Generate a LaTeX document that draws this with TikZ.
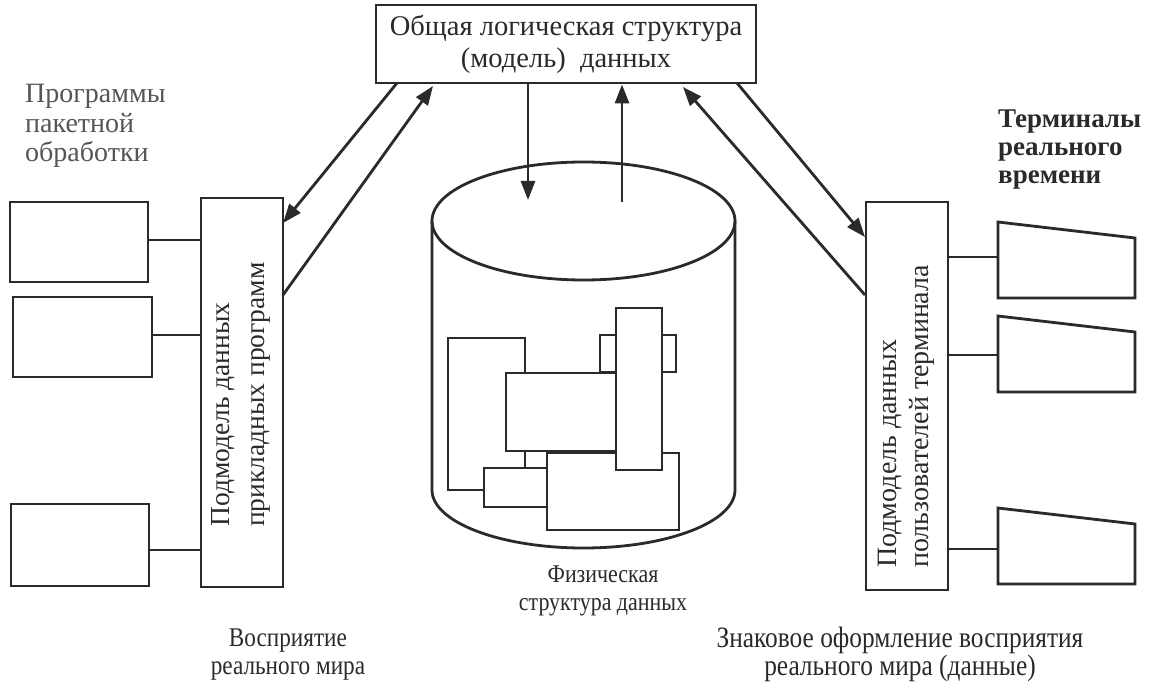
\documentclass[tikz,border=0pt]{standalone}
\usepackage{fontspec}
\setmainfont{Liberation Serif}
\newfontfamily\condf[FakeStretch=0.86]{Liberation Serif}
\usetikzlibrary{arrows.meta}
\definecolor{ink}{HTML}{2a2a2a}
\definecolor{gtext}{HTML}{555555}
\tikzset{
  box/.style={draw=ink, line width=2.8pt, fill=white, inner sep=0pt},
  ln/.style={draw=ink, line width=2.8pt},
  arr/.style={ln, -{Triangle[length=19pt,width=14pt]}},
  lbl/.style={inner sep=0pt, text=ink},
}
\begin{document}
\begin{tikzpicture}[x=1pt,y=-1pt]
\useasboundingbox[fill=white] (0,0) rectangle (1152,695);

% top box
\node[box, minimum width=380pt, minimum height=78pt, align=center,
      font=\fontsize{28.5}{32}\selectfont, text=ink] (top) at (566,44)
      {Общая логическая структура\\(модель)~~данных};

% left big box and programs
\node[box, minimum width=82pt, minimum height=389pt] (lbox) at (242,392.5) {};
\node[lbl, rotate=90, anchor=west, align=left, font=\fontsize{27.5}{35}\selectfont] (ltxt) at (241,527)
      {Подмодель данных\\прикладных программ};
\node[box, minimum width=138pt, minimum height=80pt] (b1) at (79,242) {};
\node[box, minimum width=139pt, minimum height=80pt] (b2) at (82.5,337) {};
\node[box, minimum width=138pt, minimum height=82pt] (b3) at (80,545) {};
\coordinate (c1) at (201,240);
\coordinate (c2) at (201,335);
\coordinate (c3) at (201,550);
\draw[ln] (b1.east |- c1) -- (c1);
\draw[ln] (b2.east |- c2) -- (c2);
\draw[ln] (b3.east |- c3) -- (c3);

\node[lbl, anchor=north west, align=left, text=gtext, font=\fontsize{28}{29.5}\selectfont] (prog) at (25,84)
      {Программы\\пакетной\\обработки};

% right big box and terminals
\node[box, minimum width=82pt, minimum height=388pt] (rbox) at (907,396) {};
\node[lbl, rotate=90, anchor=west, align=left, font=\fontsize{28}{32}\selectfont] (rtxt) at (906,568)
      {Подмодель данных\\пользователей терминала};
\foreach \t/\ty/\cy in {1/222/257, 2/316/355, 3/508/549}{
  \draw[ln, fill=white] (998,\ty) -- (1135,\ty+16) -- (1135,\ty+76) -- (998,\ty+76) -- cycle;
  \coordinate (t\t) at (998,\cy);
  \draw[ln] (rbox.east |- t\t) -- (t\t);
}
\node[lbl, anchor=north west, align=left, font=\bfseries\fontsize{27}{28}\selectfont] (term) at (998,110)
      {Терминалы\\реального\\времени};

% cylinder
\draw[ln] (432,221) -- (432,490) arc[start angle=180, end angle=0, x radius=151.5, y radius=58] -- (735,221);
\draw[ln] (583.5,221) ellipse [x radius=151.5, y radius=59];
\coordinate (cyltopA) at (528,200);
\coordinate (cyltopB) at (622,202);

% inner structure
\draw[ln, fill=white] (448,338) rectangle (525,490);
\draw[ln, fill=white] (600,335) rectangle (676,372);
\draw[ln, fill=white] (484,468) rectangle (547,507);
\draw[ln, fill=white] (547,453) rectangle (679,530);
\draw[ln, fill=white] (506,373) rectangle (617,451);
\draw[ln, fill=white] (616,308) rectangle (662,470);

% arrows
\coordinate (L1a) at (397,83);  \coordinate (L1b) at (283,223);
\coordinate (L2a) at (283,295); \coordinate (L2b) at (433,86);
\coordinate (R1a) at (737,83);  \coordinate (R1b) at (865,237);
\coordinate (R2a) at (865,295); \coordinate (R2b) at (683,87);
\draw[arr] (L1a) -- (L1b);
\draw[arr] (L2a) -- (L2b);
\draw[arr] (R1a) -- (R1b);
\draw[arr] (R2a) -- (R2b);
\draw[arr] (top.south -| cyltopA) -- (cyltopA);
\draw[arr] (cyltopB) -- (top.south -| cyltopB);

% labels
\node[lbl, align=center, font=\condf\fontsize{25.5}{28}\selectfont] (phys) at (603,591)
      {Физическая\\структура данных};
\node[lbl, align=center, font=\condf\fontsize{27}{28}\selectfont] (real) at (288,655)
      {Восприятие\\реального мира};
\node[lbl, align=center, font=\condf\fontsize{29.5}{28}\selectfont] (sign) at (900,654)
      {Знаковое оформление восприятия\\реального мира (данные)};
\end{tikzpicture}
\end{document}
